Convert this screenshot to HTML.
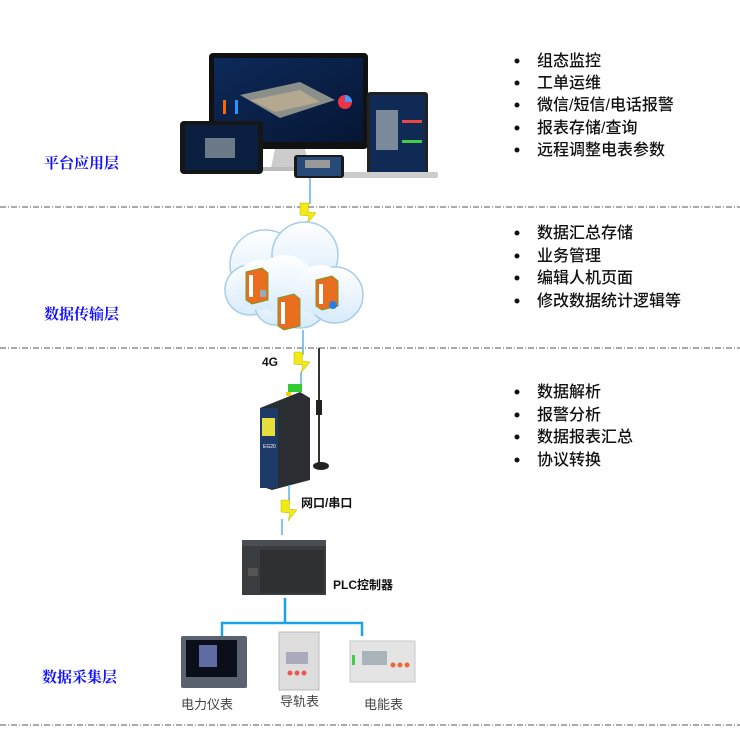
<!DOCTYPE html>
<html><head><meta charset="utf-8"><style>
html,body{margin:0;padding:0;background:#fff;}
svg{display:block;}
.t{font-family:"Liberation Sans","Noto Sans CJK SC",sans-serif;font-size:16px;fill:#111;font-weight:500;}
.b{font-family:"Liberation Serif","Noto Serif CJK SC",serif;font-size:15px;fill:#1010ff;font-weight:700;}
.s{font-family:"Liberation Sans","Noto Sans CJK SC",sans-serif;font-size:13px;fill:#444;}
.k{font-family:"Liberation Sans","Noto Sans CJK SC",sans-serif;font-size:12px;fill:#111;font-weight:700;}
</style></head><body>
<svg width="740" height="743" viewBox="0 0 740 743" xmlns="http://www.w3.org/2000/svg">
<defs>
<linearGradient id="scr" x1="0" y1="0" x2="1" y2="1"><stop offset="0" stop-color="#0d2a5a"/><stop offset="1" stop-color="#061633"/></linearGradient>
<linearGradient id="cl" x1="0" y1="0" x2="0" y2="1"><stop offset="0" stop-color="#ffffff"/><stop offset="1" stop-color="#d8ebfa"/></linearGradient>
</defs>
<g stroke="#555" stroke-width="1" stroke-dasharray="6,2,1,2">
<line x1="0" y1="207" x2="740" y2="207"/>
<line x1="0" y1="348" x2="740" y2="348"/>
<line x1="0" y1="725" x2="740" y2="725"/>
</g>
<rect x="209" y="53" width="159" height="96" rx="4" fill="#111"/>
<rect x="214" y="58" width="149" height="84" fill="url(#scr)"/>
<polygon points="240,95 300,82 335,100 280,118" fill="#8a8f8a"/>
<polygon points="250,100 300,90 320,102 275,112" fill="#b5a890"/>
<circle cx="345" cy="102" r="7" fill="#e34"/><path d="M345 102 L345 95 A7 7 0 0 1 352 102Z" fill="#49f"/>
<rect x="223" y="100" width="3" height="14" fill="#f60"/><rect x="235" y="100" width="3" height="14" fill="#29f"/>
<polygon points="275,149 305,149 309,168 271,168" fill="#ccc"/>
<rect x="262" y="167" width="58" height="4" rx="2" fill="#bbb"/>
<rect x="367" y="92" width="61" height="84" rx="3" fill="#222"/>
<rect x="370" y="95" width="55" height="77" fill="#0f2a55"/>
<rect x="376" y="110" width="22" height="40" fill="#7a8a9a"/>
<rect x="402" y="120" width="20" height="3" fill="#e44"/><rect x="402" y="140" width="20" height="3" fill="#4c4"/>
<rect x="340" y="172" width="98" height="6" rx="2" fill="#ccc"/>
<rect x="180" y="121" width="83" height="53" rx="4" fill="#161616"/>
<rect x="185" y="125" width="73" height="45" fill="#0b2040"/>
<rect x="205" y="138" width="30" height="20" fill="#6a7a88"/>
<rect x="294" y="155" width="50" height="23" rx="3" fill="#1a1a1a"/>
<rect x="297" y="157" width="44" height="19" fill="#284a78"/>
<rect x="305" y="160" width="25" height="8" fill="#999"/>
<line x1="310" y1="178" x2="310" y2="204" stroke="#5ab0ea" stroke-width="1.5"/>
<polygon points="300,203 309,203 308,212 316,213 307,224 309,216 300,215" fill="#f2ea14" stroke="#b9b000" stroke-width="0.5"/>
<line x1="307" y1="222" x2="307" y2="236" stroke="#5ab0ea" stroke-width="1.5"/>
<g fill="url(#cl)" stroke="#a8cdea" stroke-width="1.5">
<circle cx="265" cy="265" r="35"/><circle cx="305" cy="255" r="33"/><circle cx="250" cy="290" r="25"/>
<circle cx="300" cy="300" r="28"/><circle cx="335" cy="295" r="28"/><circle cx="275" cy="305" r="20"/>
</g>
<g fill="url(#cl)"><circle cx="285" cy="285" r="30"/><circle cx="320" cy="290" r="25"/><circle cx="260" cy="285" r="25"/></g>
<g>
<polygon points="246,272 262,268 268,273 268,300 252,304 246,300" fill="#e86d1f" stroke="#7a9a2a" stroke-width="1"/>
<rect x="249" y="275" width="4" height="22" fill="#fff"/>
<polygon points="316,280 332,276 338,281 338,306 322,310 316,306" fill="#e86d1f" stroke="#7a9a2a" stroke-width="1"/>
<rect x="319" y="284" width="4" height="20" fill="#fff"/><circle cx="333" cy="305" r="4" fill="#2b7de0"/>
<polygon points="278,298 294,294 300,299 300,326 284,330 278,326" fill="#e86d1f" stroke="#7a9a2a" stroke-width="1"/>
<rect x="281" y="302" width="4" height="22" fill="#fff"/>
<rect x="260" y="290" width="6" height="7" fill="#9ab" />
</g>
<line x1="303" y1="330" x2="303" y2="355" stroke="#5ab0ea" stroke-width="1.5"/>
<polygon points="294,352 303,352 302,361 310,362 301,373 303,365 294,364" fill="#f2ea14" stroke="#b9b000" stroke-width="0.5"/>
<line x1="301" y1="372" x2="301" y2="385" stroke="#5ab0ea" stroke-width="1.5"/>
<text class="k" x="262" y="366">4G</text>
<line x1="319" y1="348" x2="319" y2="465" stroke="#333" stroke-width="2"/>
<rect x="316" y="400" width="6" height="15" fill="#222"/>
<ellipse cx="321" cy="466" rx="8" ry="4" fill="#222"/>
<rect x="288" y="384" width="14" height="8" fill="#3c3"/>
<rect x="286" y="392" width="5" height="4" fill="#fc0"/>
<polygon points="260,408 300,392 310,398 310,480 272,490 260,486" fill="#2a2e33"/>
<rect x="260" y="408" width="18" height="80" fill="#1e3a68"/>
<rect x="262" y="418" width="13" height="18" fill="#e8e03a"/>
<text x="263" y="448" font-family="Liberation Sans" font-size="5" fill="#fff">EG20</text>
<line x1="289" y1="485" x2="289" y2="502" stroke="#5ab0ea" stroke-width="1.5"/>
<polygon points="281,500 290,500 289,509 297,510 288,521 290,513 281,512" fill="#f2ea14" stroke="#b9b000" stroke-width="0.5"/>
<line x1="282" y1="519" x2="282" y2="535" stroke="#5ab0ea" stroke-width="1.5"/>
<text class="k" x="301" y="507">网口/串口</text>
<rect x="242" y="540" width="84" height="55" fill="#3a3d40"/>
<rect x="242" y="540" width="84" height="6" fill="#4a4e52"/>
<rect x="260" y="550" width="64" height="43" fill="#2e3033"/>
<rect x="248" y="568" width="10" height="8" fill="#555"/>
<text class="k" x="333" y="589">PLC控制器</text>
<g stroke="#1aa3e8" stroke-width="2.5" fill="none">
<line x1="285" y1="598" x2="285" y2="623"/>
<polyline points="222,636 222,623 362,623 362,636"/>
</g>
<rect x="181" y="636" width="66" height="52" rx="2" fill="#5a6270"/>
<rect x="186" y="640" width="51" height="37" fill="#0a0f1a"/>
<rect x="199" y="645" width="18" height="22" fill="#9aa6ff" opacity="0.6"/>
<rect x="279" y="632" width="40" height="58" fill="#ddd" stroke="#bbb"/>
<rect x="286" y="652" width="22" height="12" fill="#aab"/>
<circle cx="290" cy="673" r="2.5" fill="#e55"/><circle cx="297" cy="673" r="2.5" fill="#e55"/><circle cx="304" cy="673" r="2.5" fill="#e55"/>
<rect x="350" y="641" width="65" height="41" fill="#e4e4e4" stroke="#c8c8c8"/>
<rect x="362" y="651" width="25" height="14" fill="#a8b4b8"/>
<rect x="352" y="655" width="3" height="10" fill="#4c4"/>
<circle cx="393" cy="665" r="2.5" fill="#e63"/><circle cx="400" cy="665" r="2.5" fill="#e63"/><circle cx="407" cy="665" r="2.5" fill="#e63"/>
<text class="s" x="181" y="709">电力仪表</text>
<text class="s" x="280" y="706">导轨表</text>
<text class="s" x="364" y="709">电能表</text>
<text class="b" x="44" y="168">平台应用层</text>
<text class="b" x="44" y="319">数据传输层</text>
<text class="b" x="42" y="682">数据采集层</text>
<g class="t">
<text x="537" y="66">组态监控</text><text x="537" y="88">工单运维</text><text x="537" y="110">微信/短信/电话报警</text><text x="537" y="133">报表存储/查询</text><text x="537" y="155">远程调整电表参数</text>
<text x="537" y="238">数据汇总存储</text><text x="537" y="261">业务管理</text><text x="537" y="283">编辑人机页面</text><text x="537" y="306">修改数据统计逻辑等</text>
<text x="537" y="397">数据解析</text><text x="537" y="420">报警分析</text><text x="537" y="442">数据报表汇总</text><text x="537" y="465">协议转换</text>
</g>
<g fill="#111">
<circle cx="517" cy="61" r="2.5"/><circle cx="517" cy="83" r="2.5"/><circle cx="517" cy="105" r="2.5"/><circle cx="517" cy="128" r="2.5"/><circle cx="517" cy="150" r="2.5"/>
<circle cx="517" cy="233" r="2.5"/><circle cx="517" cy="256" r="2.5"/><circle cx="517" cy="278" r="2.5"/><circle cx="517" cy="301" r="2.5"/>
<circle cx="517" cy="392" r="2.5"/><circle cx="517" cy="415" r="2.5"/><circle cx="517" cy="437" r="2.5"/><circle cx="517" cy="460" r="2.5"/>
</g>
</svg>
</body></html>
